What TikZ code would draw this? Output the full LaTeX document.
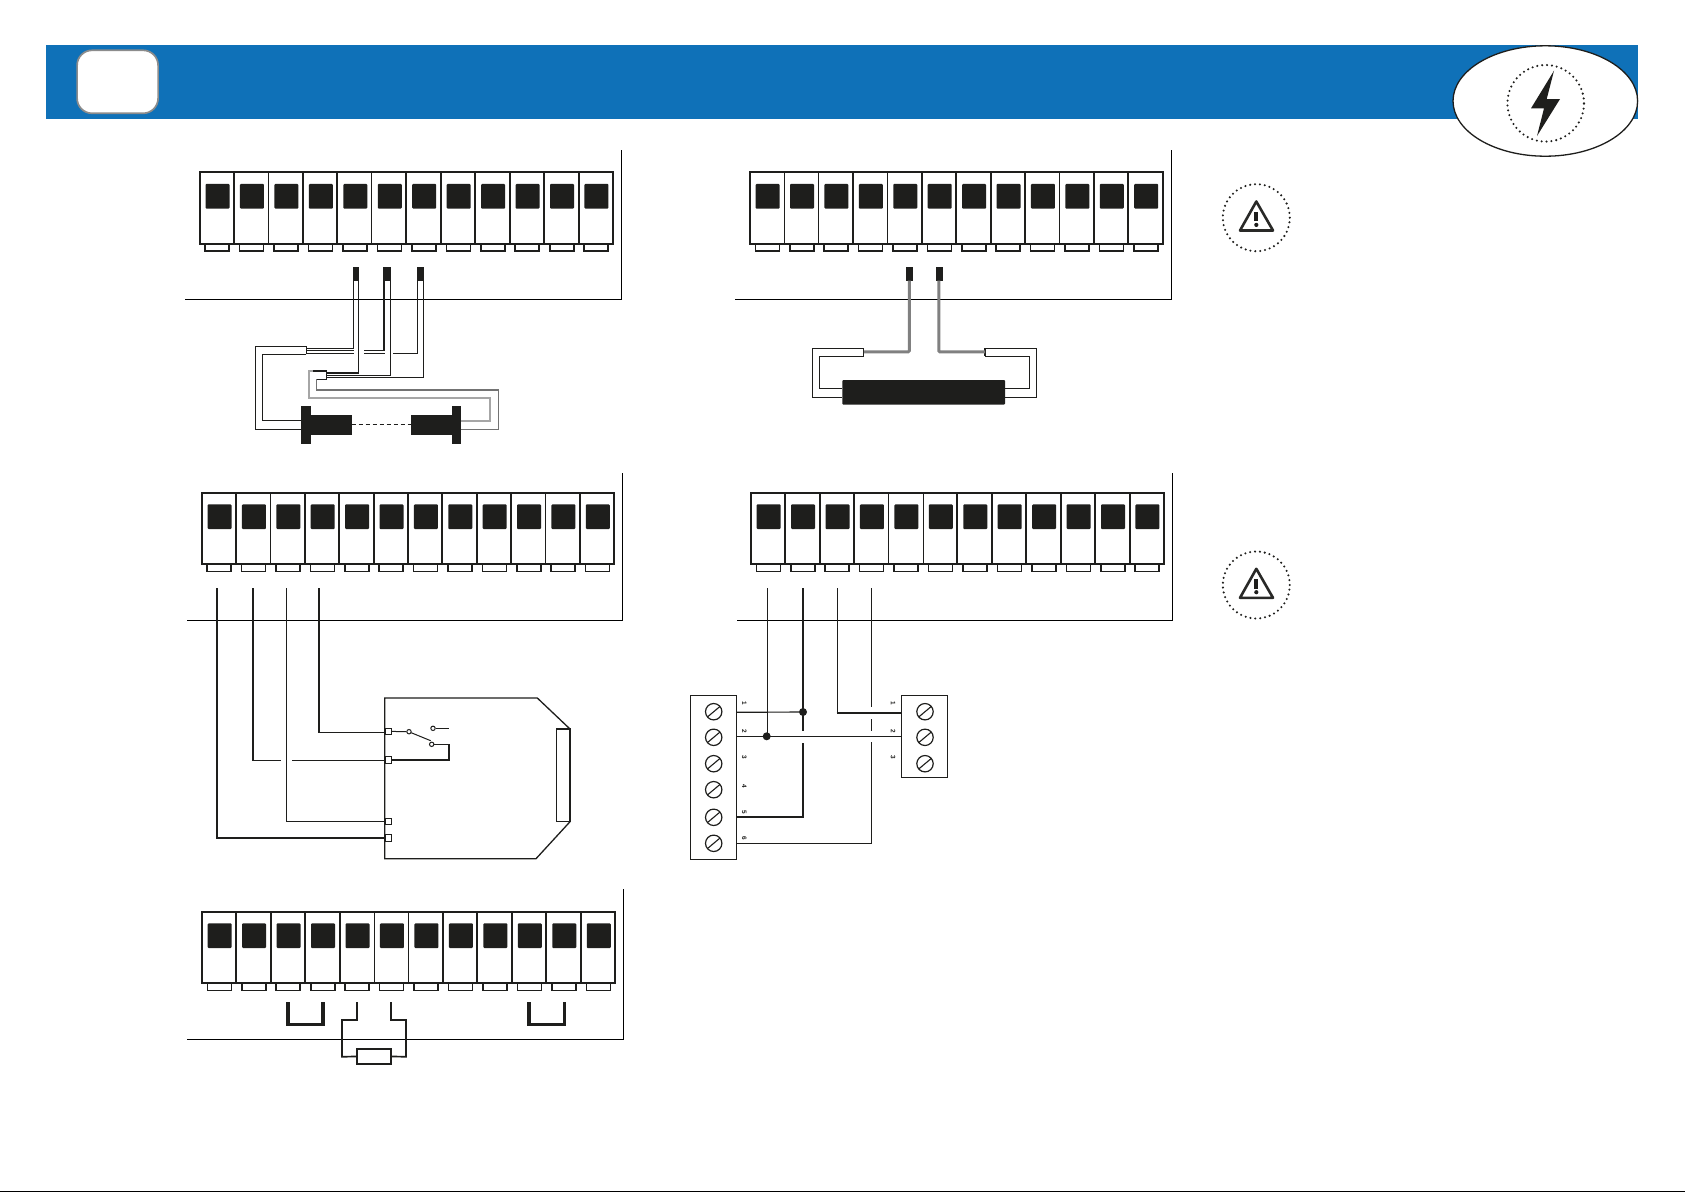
\documentclass[tikz,border=0pt]{standalone}
\usepackage{fontspec}
\setmainfont{Liberation Sans}
\usetikzlibrary{shapes.geometric}
\definecolor{banner}{HTML}{0F71B8}
\definecolor{ink}{HTML}{1E1E1C}
\tikzset{
  x=1pt,y=-1pt,
  cellbox/.style={draw=ink,line width=1.9pt,fill=white,inner sep=0pt,outer sep=0pt,minimum height=71.3pt},
  tabbox/.style={draw=ink,line width=1.6pt,fill=white,inner sep=0pt,outer sep=0pt,minimum width=24pt,minimum height=10pt},
  window/.style={fill=ink,rounded corners=1pt,inner sep=0pt,outer sep=0pt,minimum width=24pt,minimum height=24.7pt},
  framel/.style={draw=black,line width=1.2pt},
  wire/.style={draw=ink,line width=1.15pt},
  wirem/.style={draw=ink,line width=1.6pt},
  wireb/.style={draw=ink,line width=2.2pt},
  wirethin/.style={draw=ink,line width=1pt},
  greyw/.style={draw=black!35,line width=1.7pt},
  greyd/.style={draw=black!55,line width=1.2pt},
  sensor/.style={draw=black!50,line width=3pt,rounded corners=1pt},
  ferrule/.style={fill=ink,inner sep=0pt,outer sep=0pt,minimum height=13.4pt},
  solidblock/.style={fill=ink,inner sep=0pt,outer sep=0pt},
  dotring/.style={circle,draw=ink,line width=2.3pt,dash pattern=on 0pt off 4.9pt,line cap=round,inner sep=0pt,outer sep=0pt},
  screw/.style={circle,draw=ink,line width=1.2pt,inner sep=0pt,outer sep=0pt,minimum size=16.4pt},
  termbox/.style={draw=ink,line width=1.15pt,fill=white,inner sep=0pt,outer sep=0pt},
  port/.style={draw=ink,line width=1.15pt,fill=white,inner sep=0pt,outer sep=0pt,minimum size=6.2pt},
  contact/.style={circle,draw=ink,line width=1pt,fill=white,inner sep=0pt,minimum size=4.4pt},
  jdot/.style={circle,fill=ink,inner sep=0pt,outer sep=0pt,minimum size=8pt},
  digit/.style={font=\fontsize{6.4}{7}\selectfont\bfseries,rotate=-90,inner sep=0pt,text=ink},
}
% #1 name, #2 left, #3 top, #4 right, #5 thin dividers
\newcommand{\tblock}[5]{%
  \pgfmathsetmacro\bpitch{(#4-#2)/12}
  \foreach \i in {1,...,12}{
    \pgfmathsetmacro\bcx{#2+(\i-.5)*\bpitch+.4}
    \node[tabbox] (#1-t\i) at (\bcx,#3+73.9) {};
  }
  \foreach \i in {1,...,12}{
    \pgfmathsetmacro\bcx{#2+(\i-.5)*\bpitch}
    \pgfmathsetmacro\bwx{\bcx+.7}
    \node[cellbox,minimum width=\bpitch pt] (#1-\i) at (\bcx,#3+35.65) {};
    \node[window] (#1-w\i) at (\bwx,#3+24) {};
  }
  \foreach \i in {#5}{
    \draw[white,line width=2pt] (#1-\i.north east) ++(0,1) -- ([yshift=1pt]#1-\i.south east);
    \draw[ink,line width=.8pt] (#1-\i.north east) -- (#1-\i.south east);
  }
}
% #1 name, #2 cy
\newcommand{\warnicon}[2]{%
  \node[dotring,minimum size=67pt] (#1) at (1256.3,#2) {};
  \coordinate (#1-a) at (1256.3,#2-16.2);
  \coordinate (#1-l) at (1240,#2+12.8);
  \coordinate (#1-r) at (1273,#2+12.8);
  \draw[ink!95,line width=2.6pt,line join=round] (#1-a) -- (#1-r) -- (#1-l) -- cycle;
  \node[solidblock,minimum width=4pt,minimum height=9.5pt] (#1-bar) at (1256.3,#2-1) {};
  \node[circle,solidblock,minimum size=4.2pt] (#1-dot) at (1256.3,#2+7.2) {};
}
% #1 name, #2 x, #3 y
\newcommand{\screwat}[3]{%
  \node[screw] (#1) at (#2,#3) {};
  \draw[ink,line width=1.1pt] (#2-6.2,#3+5.2) -- (#2+6.2,#3-5.2);
}
\begin{document}
\begin{tikzpicture}
\useasboundingbox (0,0) rectangle (1685,1192);
\fill[white] (0,0) rectangle (1685,1192);
% header
\fill[banner] (46,45) rectangle (1637.7,118.7);
\node[draw=black!45,line width=1.7pt,fill=white,rounded corners=15pt,inner sep=0pt,minimum width=81pt,minimum height=63pt] (badge) at (117.6,81.8) {};
\node[ellipse,draw=ink,line width=1.3pt,fill=white,inner sep=0pt,minimum width=184.6pt,minimum height=110.4pt] (oval) at (1545.3,101) {};
\node[dotring,minimum size=76.6pt] (boltring) at (1545.7,103.3) {};
\fill[ink] (1554,70.7) -- (1531,108.3) -- (1544,108.3) -- (1537,136) -- (1560,99) -- (1546.7,99) -- cycle;
\warnicon{warnA}{217.7}
\warnicon{warnB}{585}
% frames
\draw[framel] (621.4,150) -- (621.4,299.3) -- (185,299.3);
\draw[framel] (1171.5,150) -- (1171.5,299.3) -- (735,299.3);
\draw[framel] (622.7,473) -- (622.7,620.3) -- (187,620.3);
\draw[framel] (1172.3,473) -- (1172.3,620.3) -- (736.7,620.3);
\draw[framel] (623.3,889.3) -- (623.3,1039.3) -- (187.3,1039.3);
% terminal strips
\tblock{A}{199.6}{172.3}{613}{5}
\tblock{B}{749.7}{172.3}{1162.7}{1,4}
\tblock{C}{201.7}{492.7}{614.3}{}
\tblock{D}{750.7}{492.7}{1164}{5}
\tblock{E}{201.7}{911.7}{615.3}{5}
% ---------- diagram A: photocell pair
\node[ferrule,minimum width=5.7pt] (fa1) at (356.2,274) {};
\node[ferrule,minimum width=7.7pt] (fa2) at (386.8,274) {};
\node[ferrule,minimum width=6.7pt] (fa3) at (420.3,274) {};
\node[solidblock,minimum width=10pt,minimum height=37.7pt] (flL) at (306,424.85) {};
\node[solidblock,minimum width=40.7pt,minimum height=19.7pt] (bdL) at (331.35,424.85) {};
\node[solidblock,minimum width=41pt,minimum height=19.7pt] (bdR) at (431.5,424.85) {};
\node[solidblock,minimum width=9pt,minimum height=37.7pt] (flR) at (456.5,424.85) {};
\draw[wire,dashed,dash pattern=on 4pt off 3pt] (bdL.east) -- (bdR.west);
% left connector
\coordinate (cl1) at (306.3,346.3);
\coordinate (cl2) at (306.3,354.3);
\draw[wire] (cl1) -- (255.3,346.3) -- (255.3,429.3) -- (flL.west |- 0,429.3);
\draw[wire] (cl2) -- (262.3,354.3) -- (262.3,420.3) -- (flL.west |- 0,420.3);
\draw[wire] (cl1) -- (cl2);
\draw[wirethin] (306.3,348.3) -- (353.7,348.3) -- (353.7,280.7);
\draw[wirethin] (306.3,350.7) -- (354,350.7);
\draw[wirethin] (364.3,350.7) -- (384,350.7);
\draw[wireb] (384,350.7) -- (384,280.7);
\draw[wirethin] (306.3,353.3) -- (354,353.3);
\draw[wirethin] (364.3,353.3) -- (385,353.3);
\draw[wirethin] (393,353.3) -- (417.3,353.3) -- (417.3,280.7);
% right connector
\coordinate (cr1) at (326.7,371);
\coordinate (cr2) at (326.7,379.3);
\draw[greyw] (316.7,371) -- (309,371) -- (309,397.7) -- (490.3,397.7) -- (490.3,420.7) -- (flR.east |- 0,420.7);
\draw[greyd] (316.7,379.3) -- (316.7,390) -- (498.7,390) -- (498.7,429.3) -- (flR.east |- 0,429.3);
\draw[wire] (cr1) -- (312.7,371);
\draw[wire] (cr2) -- (316.7,379.3);
\draw[wire] (cr1) -- (cr2);
\draw[wireb] (cr1 |- 0,373) -- (358.7,373);
\draw[wire] (358.7,373) -- (358.7,280.7);
\draw[wirethin] (cr1 |- 0,375.3) -- (390.3,375.3) -- (390.3,280.7);
\draw[wirethin] (cr1 |- 0,377.3) -- (423.7,377.3) -- (423.7,280.7);
% ---------- diagram B: safety edge
\node[ferrule,minimum width=7.3pt] (fb1) at (909.5,274) {};
\node[ferrule,minimum width=7pt] (fb2) at (939.5,274) {};
\node[solidblock,rounded corners=1pt,minimum width=162.6pt,minimum height=24.7pt] (edge) at (923.7,392.35) {};
\coordinate (bl1) at (863.8,348.3);
\coordinate (bl2) at (863.8,356.3);
\coordinate (br1) at (985,348.3);
\coordinate (br2) at (985,356.3);
\draw[wire] (bl1) -- (812.5,348.3) -- (812.5,397.3) -- (edge.west |- 0,397.3);
\draw[wire] (bl2) -- (819.4,356.3) -- (819.4,388.3) -- (edge.west |- 0,388.3);
\draw[wire] (bl1) -- (bl2);
\draw[wire] (br1) -- (1036.8,348.3) -- (1036.8,397.3) -- (edge.east |- 0,397.3);
\draw[wire] (br2) -- (1029.5,356.3) -- (1029.5,388.3) -- (edge.east |- 0,388.3);
\draw[wire] (br1) -- (br2);
\draw[sensor] (909.3,280.7) -- (909.3,351.8) -- (863.8,351.8);
\draw[sensor] (938.8,280.7) -- (938.8,351.8) -- (985,351.8);
% ---------- diagram C: radio receiver
\coordinate (ct1) at (217,588.3);
\coordinate (ct2) at (252.7,588.3);
\coordinate (ct3) at (286.3,588.3);
\coordinate (ct4) at (318.7,588.3);
\draw[wireb] (ct1) -- (217,838) -- (385.7,838);
\draw[wirem] (ct2) -- (252.7,760.3) -- (281,760.3);
\draw[wire] (292.3,760.3) -- (385.7,760.3);
\draw[wire] (ct3) -- (286.3,821.3) -- (385.7,821.3);
\draw[wirem] (ct4) -- (318.7,732.3) -- (385.7,732.3);
\draw[wire,line width=1.3pt] (537.3,698) -- (384.7,698) -- (384.7,858.7) -- (536,858.7) -- (570,821.7) -- (570,729) -- cycle;
\node[draw=ink,line width=1.4pt,fill=white,inner sep=0pt,outer sep=0pt,minimum width=13.3pt,minimum height=92.7pt] (cbar) at (563.35,775.35) {};
\node[port] (p1) at (388.7,731.4) {};
\node[port] (p2) at (388.7,760) {};
\node[port] (p3) at (388.7,821.2) {};
\node[port] (p4) at (388.7,838) {};
\node[contact] (s1) at (409,731.7) {};
\node[contact] (s2) at (431.7,744.3) {};
\node[contact] (s3) at (433,728.3) {};
\coordinate (s3e) at (449.3,728.3);
\draw[wirethin] (p1.east) -- (s1.west);
\draw[wirethin] (s1) ++(2.2,1) -- (430.7,740.7);
\draw[wirethin] (s3.east) -- (s3e);
\draw[wirethin] (s2.east) -- (448.7,744.3);
\draw[wirem] (448.7,744.3) -- (448.7,760) -- (p2.east);
% ---------- diagram D: two terminal boards
\node[termbox,minimum width=46.4pt,minimum height=163.6pt] (tl) at (713.5,777.5) {};
\node[termbox,minimum width=46pt,minimum height=81.6pt] (tr) at (924.3,736.5) {};
\screwat{sl1}{713.7}{711.7}
\screwat{sl2}{713.7}{737.3}
\screwat{sl3}{713.7}{763.7}
\screwat{sl4}{713.7}{789.7}
\screwat{sl5}{713.7}{817.3}
\screwat{sl6}{713.7}{843.3}
\screwat{sr1}{925}{711.7}
\screwat{sr2}{925}{737.3}
\screwat{sr3}{925}{763.7}
\node[jdot] (j1) at (803,712) {};
\node[jdot] (j2) at (766.7,736.3) {};
\coordinate (dt1) at (767.3,588);
\coordinate (dt2) at (803,588);
\coordinate (dt3) at (837.3,588);
\coordinate (dt4) at (871.3,588);
\draw[wire] (dt1) -- (767.3,736.3);
\draw[wireb] (dt2) -- (803,731);
\draw[wireb] (803,743) -- (803,816.7) -- (736.7,816.7);
\draw[wire] (dt3) -- (837.3,712.7);
\draw[wireb] (836.7,712.7) -- (901.3,712.7);
\draw[wire] (dt4) -- (871.3,706.7);
\draw[wire] (871.3,719.3) -- (871.3,731);
\draw[wire] (871.3,742.3) -- (871.3,843.3) -- (736.7,843.3);
\draw[wire] (736.7,712.3) -- (j1);
\draw[wire] (736.7,736.3) -- (901.3,736.3);
\node[digit] (dl1) at (744.3,703.3) {1};
\node[digit] (dl2) at (744.3,731.7) {2};
\node[digit] (dl3) at (744.3,757.3) {3};
\node[digit] (dl4) at (744.3,786) {4};
\node[digit] (dl5) at (744.3,812.3) {5};
\node[digit] (dl6) at (744.3,838.3) {6};
\node[digit] (dr1) at (893,703.3) {1};
\node[digit] (dr2) at (893,731.7) {2};
\node[digit] (dr3) at (893,757.3) {3};
% ---------- diagram E: bridges and resistor
\draw[ink,line width=3.5pt,line join=miter] (288,1002) -- (288,1024.3) -- (323,1024.3) -- (323,1002);
\draw[ink,line width=3.5pt,line join=miter] (529,1002) -- (529,1024.3) -- (564.3,1024.3) -- (564.3,1002);
\node[draw=ink,line width=1.8pt,fill=white,inner sep=0pt,outer sep=0pt,minimum width=34.3pt,minimum height=15pt] (res) at (374.2,1056.5) {};
\draw[ink,line width=1.7pt] (357,1002) -- (357,1020) -- (342,1020) -- (342,1056.7) -- (res.west);
\draw[ink,line width=1.7pt] (391,1002) -- (391,1020) -- (406,1020) -- (406,1056.7) -- (res.east);
% bottom rule
\draw[black,line width=1pt] (0,1191.5) -- (1685,1191.5);
\end{tikzpicture}
\end{document}
